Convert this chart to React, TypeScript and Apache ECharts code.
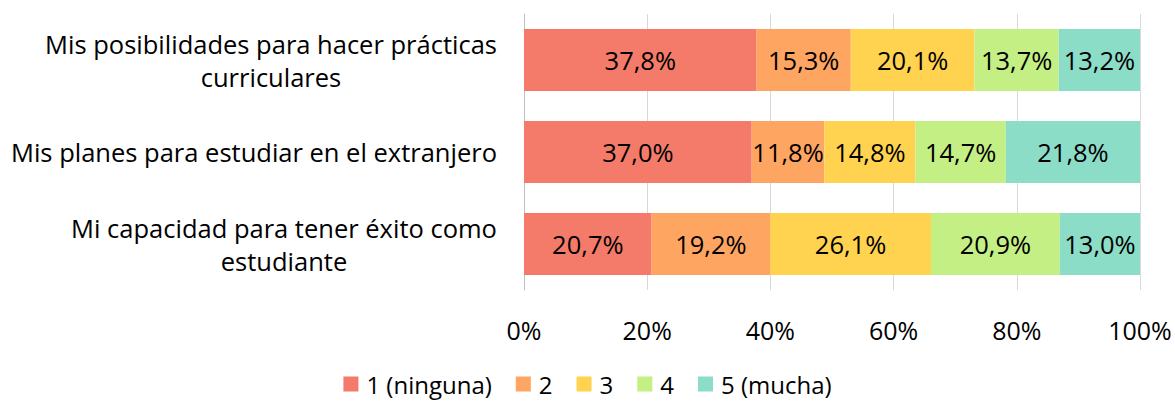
import React, { useEffect, useRef } from "react";
import * as echarts from "echarts";

const categories = [
  "Mis posibilidades para hacer prácticas curriculares",
  "Mis planes para estudiar en el extranjero",
  "Mi capacidad para tener éxito como estudiante",
];
const seriesNames = ["1 (ninguna)", "2", "3", "4", "5 (mucha)"];
const values1 = [37.8, 37.0, 20.7];
const values2 = [15.3, 11.8, 19.2];
const values3 = [20.1, 14.8, 26.1];
const values4 = [13.7, 14.7, 20.9];
const values5 = [13.2, 21.8, 13.0];
const xTicks = [0, 20, 40, 60, 80, 100];
const colors = ["#F47B69", "#FFA562", "#FFD34F", "#C3EF85", "#8CDDC7"];

const FONT = "Open Sans";
const FS_CAT = 25.5;
const FS_LBL = 25.5;
const FS_AX = 25;
const FS_LEG = 24;
const WRAP = 500;

function wrapLines(text: string, ctx: CanvasRenderingContext2D): string[] {
  const words = text.split(" ");
  const lines: string[] = [];
  let cur = "";
  for (const w of words) {
    const t = cur ? cur + " " + w : w;
    if (ctx.measureText(t).width > WRAP && cur) {
      lines.push(cur);
      cur = w;
    } else cur = t;
  }
  if (cur) lines.push(cur);
  return lines;
}

export default function App() {
  const ref = useRef<HTMLDivElement>(null);
  useEffect(() => {
    if (!ref.current) return;
    const chart = echarts.init(ref.current, null, { renderer: "svg" });
    const canvas = document.createElement("canvas");
    const ctx = canvas.getContext("2d")!;
    ctx.font = `${FS_CAT}px "${FONT}"`;
    const wrapped = categories.map((c) => wrapLines(c, ctx));
    const rich: any = {};
    wrapped.forEach((lines, i) => {
      const w = Math.max(...lines.map((l) => ctx.measureText(l).width));
      rich["c" + i] = {
        width: Math.ceil(w),
        align: "center",
        fontSize: FS_CAT,
        fontFamily: FONT,
        color: "#000",
        lineHeight: 33,
      };
    });
    const all = [values1, values2, values3, values4, values5];
    const totals = categories.map((_, i) => all.reduce((s, a) => s + a[i], 0));
    const series = all.map((vals, si) => ({
      name: seriesNames[si],
      type: "bar",
      stack: "total",
      barWidth: 62,
      itemStyle: { color: colors[si] },
      data: vals.map((v, i) => ({ value: (v / totals[i]) * 100, raw: v })),
      label: {
        show: true,
        position: "inside",
        fontSize: FS_LBL,
        fontFamily: FONT,
        color: "#000",
        formatter: (p: any) => p.data.raw.toFixed(1).replace(".", ",") + "%",
      },
    }));
    chart.setOption({
      animation: false,
      textStyle: { fontFamily: FONT },
      grid: { left: 524, right: 35, top: 14, bottom: 111, containLabel: false },
      legend: {
        top: 367,
        left: "center",
        itemWidth: 15,
        itemHeight: 15,
        itemGap: 24,
        icon: "rect",
        textStyle: { fontSize: FS_LEG, fontFamily: FONT, color: "#000", padding: [0, 0, 0, 3] },
        data: seriesNames,
      },
      xAxis: {
        type: "value",
        min: xTicks[0],
        max: xTicks[xTicks.length - 1],
        interval: xTicks[1] - xTicks[0],
        axisLine: { show: false },
        axisTick: { show: false },
        splitLine: { lineStyle: { color: "#d9d9d9", width: 1 } },
        axisLabel: {
          fontSize: FS_AX,
          fontFamily: FONT,
          color: "#000",
          margin: 27,
          formatter: (v: number) => v + "%",
        },
      },
      yAxis: {
        type: "category",
        inverse: true,
        data: categories,
        axisLine: { show: true, lineStyle: { color: "#bfbfbf" } },
        axisTick: { show: false },
        axisLabel: {
          margin: 27,
          interval: 0,
          rich,
          formatter: (v: string, i: number) =>
            wrapped[i].map((l) => `{c${i}|${l}}`).join("\n"),
        },
      },
      series,
    });
    return () => chart.dispose();
  }, []);
  return (
    <div
      ref={ref}
      style={{ position: "fixed", left: 0, top: 0, width: 1175, height: 401, background: "#fff" }}
    />
  );
}
